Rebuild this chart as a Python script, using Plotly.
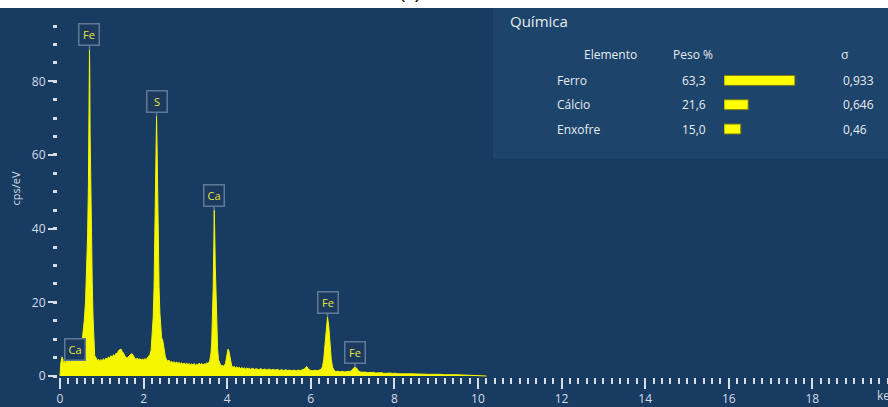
import numpy as np
import plotly.graph_objects as go

# EDS spectrum: (energy keV, counts cps/eV)
spectrum_points = [
    (0.00, 0.0), (0.02, 3.5), (0.05, 5.2), (0.08, 2.8), (0.10, 4.6), (0.13, 3.1),
    (0.16, 5.0), (0.19, 3.6), (0.22, 4.8), (0.25, 3.4), (0.28, 5.6), (0.31, 4.2),
    (0.34, 6.0), (0.37, 4.4), (0.40, 5.8), (0.43, 4.9), (0.46, 7.0), (0.49, 6.2),
    (0.52, 8.5), (0.55, 11.0), (0.58, 15.0), (0.61, 20.0), (0.64, 30.0), (0.66, 38.0),
    (0.68, 52.0), (0.69, 66.0), (0.698, 80.0), (0.705, 88.5), (0.712, 82.0), (0.72, 66.0),
    (0.735, 48.0), (0.75, 36.0), (0.77, 26.0), (0.79, 16.0), (0.81, 9.0), (0.83, 5.5),
    (0.86, 5.0), (0.89, 4.1), (0.92, 4.6), (0.95, 3.9), (0.98, 4.5), (1.01, 4.0),
    (1.04, 4.7), (1.07, 4.2), (1.10, 4.9), (1.13, 4.5), (1.16, 5.2), (1.19, 4.8),
    (1.22, 5.5), (1.25, 5.0), (1.28, 5.8), (1.31, 5.4), (1.34, 6.2), (1.37, 6.0),
    (1.40, 6.9), (1.43, 7.2), (1.46, 7.3), (1.49, 6.6), (1.52, 6.2), (1.55, 5.4),
    (1.58, 5.0), (1.61, 4.8), (1.64, 5.3), (1.67, 5.6), (1.70, 6.0), (1.73, 6.0),
    (1.76, 5.3), (1.79, 4.8), (1.82, 4.5), (1.85, 4.9), (1.88, 4.4), (1.91, 4.7),
    (1.94, 4.3), (1.97, 4.6), (2.00, 4.4), (2.03, 4.7), (2.06, 4.5), (2.09, 4.9),
    (2.12, 5.2), (2.15, 5.8), (2.18, 7.0), (2.21, 11.0), (2.23, 16.0), (2.25, 24.0),
    (2.27, 36.0), (2.285, 50.0), (2.30, 64.0), (2.31, 70.5), (2.32, 64.0), (2.335, 48.0),
    (2.35, 34.0), (2.37, 24.0), (2.39, 17.0), (2.41, 12.5), (2.43, 10.5), (2.46, 9.5),
    (2.49, 7.0), (2.52, 5.2), (2.55, 4.4), (2.58, 4.0), (2.61, 4.3), (2.64, 3.7),
    (2.67, 4.0), (2.70, 3.6), (2.73, 3.9), (2.76, 3.5), (2.79, 3.8), (2.82, 3.4),
    (2.85, 3.7), (2.88, 3.3), (2.91, 3.6), (2.94, 3.2), (2.97, 3.5), (3.00, 3.2),
    (3.03, 3.5), (3.06, 3.1), (3.09, 3.4), (3.12, 3.0), (3.15, 3.3), (3.18, 3.0),
    (3.21, 3.4), (3.24, 2.9), (3.27, 3.2), (3.30, 3.0), (3.33, 3.5), (3.36, 3.1),
    (3.39, 3.4), (3.42, 3.0), (3.45, 3.3), (3.48, 3.2), (3.51, 3.6), (3.54, 3.4),
    (3.58, 4.0), (3.61, 6.0), (3.63, 9.0), (3.65, 15.0), (3.665, 24.0), (3.68, 36.0),
    (3.69, 45.0), (3.70, 40.0), (3.715, 30.0), (3.73, 21.0), (3.75, 13.0), (3.77, 7.5),
    (3.79, 4.5), (3.82, 3.2), (3.85, 2.7), (3.88, 2.9), (3.91, 2.7), (3.94, 3.0),
    (3.96, 3.4), (3.98, 4.8), (4.00, 6.3), (4.02, 7.3), (4.04, 6.8), (4.06, 5.2),
    (4.08, 3.6), (4.11, 2.6), (4.14, 2.4), (4.17, 2.6), (4.20, 2.2), (4.23, 2.5),
    (4.26, 2.1), (4.29, 2.4), (4.32, 2.0), (4.35, 2.3), (4.38, 2.0), (4.41, 2.2),
    (4.44, 1.9), (4.47, 2.2), (4.50, 1.9), (4.53, 2.1), (4.56, 1.8), (4.60, 2.1),
    (4.65, 1.8), (4.70, 2.0), (4.75, 1.7), (4.80, 2.0), (4.85, 1.7), (4.90, 1.9),
    (4.95, 1.6), (5.00, 1.9), (5.05, 1.6), (5.10, 1.8), (5.15, 1.6), (5.20, 1.8),
    (5.25, 1.5), (5.30, 1.7), (5.35, 1.5), (5.40, 1.7), (5.45, 1.5), (5.50, 1.6),
    (5.55, 1.4), (5.60, 1.6), (5.65, 1.4), (5.70, 1.6), (5.75, 1.5), (5.80, 1.7),
    (5.85, 1.9), (5.90, 2.6), (5.95, 1.8), (6.00, 1.5), (6.05, 1.4), (6.10, 1.6),
    (6.15, 1.4), (6.20, 1.6), (6.25, 1.8), (6.28, 2.5), (6.31, 4.5), (6.34, 8.5),
    (6.37, 13.5), (6.40, 16.0), (6.43, 13.5), (6.46, 8.5), (6.49, 4.5), (6.52, 2.4),
    (6.56, 1.5), (6.60, 1.2), (6.65, 1.3), (6.70, 1.1), (6.75, 1.3), (6.80, 1.1),
    (6.85, 1.2), (6.90, 1.1), (6.95, 1.3), (6.99, 1.6), (7.02, 2.1), (7.06, 2.4),
    (7.10, 2.1), (7.14, 1.4), (7.18, 1.1), (7.25, 1.0), (7.30, 1.1), (7.35, 0.9),
    (7.40, 1.0), (7.45, 0.9), (7.50, 1.0), (7.55, 0.8), (7.60, 0.9), (7.65, 0.8),
    (7.70, 0.9), (7.75, 0.7), (7.80, 0.8), (7.85, 0.7), (7.90, 0.8), (7.95, 0.7),
    (8.00, 0.75), (8.10, 0.6), (8.20, 0.7), (8.30, 0.6), (8.40, 0.6), (8.50, 0.5),
    (8.60, 0.55), (8.70, 0.5), (8.80, 0.45), (8.90, 0.5), (9.00, 0.4), (9.10, 0.45),
    (9.20, 0.35), (9.30, 0.4), (9.40, 0.3), (9.50, 0.35), (9.60, 0.3), (9.70, 0.25),
    (9.80, 0.3), (9.90, 0.2), (10.00, 0.2), (10.10, 0.1), (10.20, 0.0),
]
energy_kev = [p[0] for p in spectrum_points]
counts_cps = [p[1] for p in spectrum_points]

# Peak identification labels
peak_symbols = ["Ca", "Fe", "S", "Ca", "Fe", "Fe"]
peak_energies = [0.36, 0.705, 2.31, 3.69, 6.40, 7.06]

# Quantification table
elementos = ["Ferro", "Cálcio", "Enxofre"]
peso_pct = [63.3, 21.6, 15.0]
peso_txt = ["63,3", "21,6", "15,0"]
sigma_txt = ["0,933", "0,646", "0,46"]

x_ticks = list(range(0, 20, 2))
y_ticks = [0, 20, 40, 60, 80]

BG = "#183b62"
PANEL = "#1d446b"
YELLOW = "#f6f600"
TICK = "#d6dde6"
TXT = "#e6ecf2"
FONT = "Open Sans"

fig = go.Figure()

fig.add_trace(go.Scatter(
    x=energy_kev, y=counts_cps, mode="lines",
    line=dict(color=YELLOW, width=1),
    fill="tozeroy", fillcolor=YELLOW,
    hoverinfo="skip", showlegend=False,
))

fig.add_trace(go.Bar(
    x=peso_pct, y=elementos, orientation="h",
    xaxis="x2", yaxis="y2", width=0.41,
    marker=dict(color="#ffff00", line=dict(color="#77771c", width=1)),
    hoverinfo="skip", showlegend=False,
))

annotations = []

# Peak markers: boxed symbol with a short pointer to the peak
label_offsets = [-8, -15, -15, -15, -15, -15]
for sym, e, off in zip(peak_symbols, peak_energies, label_offsets):
    h = float(np.interp(e, energy_kev, counts_cps))
    annotations.append(dict(
        x=e, y=h, xref="x", yref="y", text=sym,
        showarrow=True, arrowhead=0, arrowwidth=1.5, arrowcolor="#5f7a98",
        ax=0, ay=off, standoff=0,
        font=dict(family=FONT, size=11, color="#e6e640"),
        bgcolor="#1b3a5e", bordercolor="#5f7a98", borderwidth=1.5, borderpad=2,
        width=15, height=16,
    ))

# Table panel text
annotations.append(dict(x=0.5422, y=0.9637, xref="paper", yref="paper", text="Química",
                        showarrow=False, xanchor="left", yanchor="middle",
                        font=dict(family=FONT, size=15, color=TXT)))
hdr_y = 0.8737
annotations.append(dict(x=0.7005, y=hdr_y, xref="paper", yref="paper", text="Elemento",
                        showarrow=False, xanchor="right", yanchor="middle",
                        font=dict(family=FONT, size=12, color=TXT)))
annotations.append(dict(x=0.7651, y=hdr_y, xref="paper", yref="paper", text="Peso %",
                        showarrow=False, xanchor="center", yanchor="middle",
                        font=dict(family=FONT, size=12, color=TXT)))
annotations.append(dict(x=0.9482, y=hdr_y, xref="paper", yref="paper", text="σ",
                        showarrow=False, xanchor="center", yanchor="middle",
                        font=dict(family=FONT, size=12, color=TXT)))
for el, pt, st in zip(elementos, peso_txt, sigma_txt):
    annotations.append(dict(x=0.5988, y=el, xref="paper", yref="y2", text=el,
                            showarrow=False, xanchor="left", yanchor="middle",
                            font=dict(family=FONT, size=12, color=TXT)))
    annotations.append(dict(x=0.7831, y=el, xref="paper", yref="y2", text=pt,
                            showarrow=False, xanchor="right", yanchor="middle",
                            font=dict(family=FONT, size=12, color=TXT)))
    annotations.append(dict(x=0.9434, y=el, xref="paper", yref="y2", text=st,
                            showarrow=False, xanchor="left", yanchor="middle",
                            font=dict(family=FONT, size=12, color=TXT)))

# Axis titles
annotations.append(dict(x=-0.0518, y=0.511, xref="paper", yref="paper", text="cps/eV",
                        textangle=-90, showarrow=False, xanchor="center", yanchor="middle",
                        font=dict(family=FONT, size=11, color=TICK)))
annotations.append(dict(x=0.9843, y=-0.051, xref="paper", yref="paper", text="keV",
                        showarrow=False, xanchor="left", yanchor="middle",
                        font=dict(family=FONT, size=12, color=TICK)))
# Figure caption above the panel
annotations.append(dict(x=0.424, y=1.0105, xref="paper", yref="paper", text="(a)",
                        showarrow=False, xanchor="center", yanchor="bottom",
                        font=dict(family="Liberation Sans", size=18, color="#000000")))

shapes = [
    dict(type="rect", xref="paper", yref="paper", x0=0.5241, x1=1.0, y0=0.5914, y1=1.0,
         fillcolor=PANEL, line=dict(width=0), layer="below"),
    dict(type="rect", xref="paper", yref="paper", x0=-0.1, x1=1.1, y0=1.0, y1=1.1,
         fillcolor="#ffffff", line=dict(width=0), layer="below"),
]

fig.update_layout(
    width=888, height=407, autosize=False,
    margin=dict(l=58, r=0, t=8, b=27, pad=0),
    paper_bgcolor=BG, plot_bgcolor="rgba(0,0,0,0)",
    font=dict(family=FONT, color=TICK),
    showlegend=False,
    xaxis=dict(
        range=[-0.048, 19.81], tickvals=x_ticks, ticktext=[str(v) for v in x_ticks],
        ticks="outside", ticklen=11, tickwidth=2, tickcolor=TICK,
        minor=dict(dtick=0.2, tick0=0, ticks="outside", ticklen=6, tickwidth=2, tickcolor=TICK),
        showgrid=False, zeroline=False, showline=False,
        tickfont=dict(family=FONT, size=12, color=TICK),
    ),
    yaxis=dict(
        range=[-0.27, 99.9], tickvals=y_ticks, ticktext=[str(v) for v in y_ticks],
        ticks="outside", ticklen=9, tickwidth=2, tickcolor=TICK,
        minor=dict(dtick=5, tick0=0, ticks="outside", ticklen=4, tickwidth=3, tickcolor=TICK),
        showgrid=False, zeroline=False, showline=False,
        tickfont=dict(family=FONT, size=12, color=TICK),
    ),
    xaxis2=dict(domain=[0.8024, 0.9373], range=[0, 100], anchor="y2", visible=False,
                showgrid=False, zeroline=False),
    yaxis2=dict(domain=[0.6391, 0.8367], type="category", categoryorder="array",
                categoryarray=elementos, range=[2.5, -0.5], anchor="x2", visible=False,
                showgrid=False, zeroline=False),
    annotations=annotations,
    shapes=shapes,
)

fig.write_html("out.html", config={"displayModeBar": False})
